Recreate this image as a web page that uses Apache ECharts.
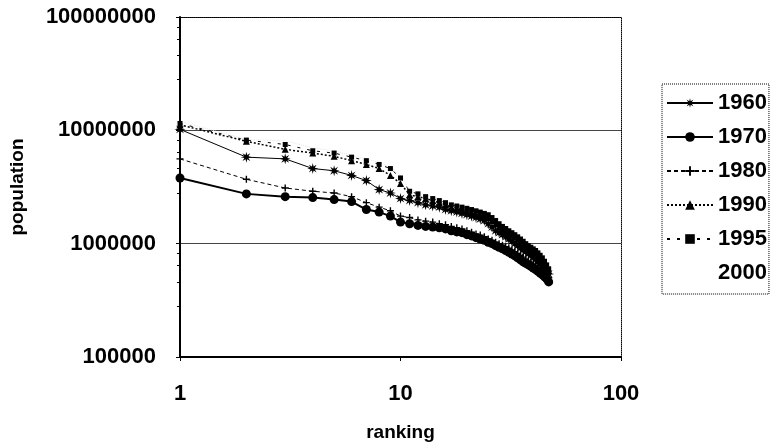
<!DOCTYPE html>
<html>
<head>
<meta charset="utf-8">
<script src="https://cdn.jsdelivr.net/npm/echarts@6/dist/echarts.min.js"></script>
<style>
  html, body { margin: 0; padding: 0; background: #fff; }
  #chart { width: 778px; height: 444px; }
</style>
</head>
<body>
<div id="chart"></div>
<script>
// ranks 1..47
var ranks = [1,2,3,4,5,6,7,8,9,10,11,12,13,14,15,16,17,18,19,20,21,22,23,24,25,26,27,28,29,30,31,32,33,34,35,36,37,38,39,40,41,42,43,44,45,46,47];
var years = ['1960', '1970', '1980', '1990', '1995', '2000'];

var pop1960 = [10200000,5800000,5600000,4600000,4400000,4000000,3600000,3000000,2800000,2500000,2400000,2300000,2200000,2150000,2100000,2000000,1950000,1900000,1850000,1800000,1750000,1700000,1650000,1600000,1500000,1400000,1300000,1250000,1200000,1150000,1100000,1050000,1000000,960000,920000,880000,850000,820000,790000,760000,730000,700000,670000,640000,610000,580000,540000];
var pop1970 = [3800000,2750000,2600000,2550000,2450000,2350000,2000000,1900000,1750000,1550000,1500000,1450000,1420000,1400000,1380000,1350000,1300000,1270000,1250000,1200000,1170000,1130000,1100000,1070000,1030000,1000000,960000,930000,900000,870000,840000,810000,780000,750000,720000,690000,670000,650000,630000,610000,590000,570000,550000,530000,510000,490000,460000];
var pop1980 = [5600000,3700000,3100000,2900000,2800000,2600000,2300000,2100000,1950000,1750000,1700000,1620000,1580000,1550000,1500000,1470000,1420000,1380000,1350000,1300000,1260000,1220000,1190000,1150000,1100000,1070000,1030000,1000000,970000,940000,910000,880000,850000,820000,790000,760000,730000,700000,680000,660000,640000,620000,600000,580000,560000,530000,500000];
var pop1990 = [11200000,8000000,6800000,6300000,5900000,5400000,5000000,4600000,4000000,3400000,2700000,2600000,2500000,2400000,2300000,2200000,2100000,2050000,2000000,1950000,1900000,1850000,1800000,1750000,1700000,1600000,1500000,1420000,1350000,1300000,1250000,1200000,1150000,1100000,1050000,1000000,960000,920000,890000,860000,830000,800000,760000,720000,680000,630000,580000];
var pop1995 = [11500000,8200000,7500000,6600000,6300000,5800000,5400000,5000000,4600000,3800000,2900000,2750000,2600000,2500000,2400000,2300000,2200000,2150000,2100000,2050000,2000000,1950000,1900000,1850000,1800000,1700000,1600000,1500000,1420000,1360000,1300000,1250000,1200000,1150000,1100000,1050000,1000000,960000,930000,900000,870000,830000,790000,750000,700000,650000,600000];
var pop2000 = [12000000,8300000,8100000,7000000,6600000,6000000,5600000,5200000,4800000,4000000,3000000,2850000,2700000,2600000,2500000,2400000,2300000,2220000,2160000,2100000,2050000,2000000,1950000,1900000,1850000,1750000,1650000,1550000,1470000,1400000,1340000,1280000,1220000,1170000,1120000,1070000,1020000,980000,950000,920000,890000,850000,810000,770000,720000,670000,620000];

var starPath = 'path://M0,-10 L1.53,-3.7 L7.07,-7.07 L3.7,-1.53 L10,0 L3.7,1.53 L7.07,7.07 L1.53,3.7 L0,10 L-1.53,3.7 L-7.07,7.07 L-3.7,1.53 L-10,0 L-3.7,-1.53 L-7.07,-7.07 L-1.53,-3.7 Z';
var plusPath = 'path://M-1,-5 L1,-5 L1,-1 L5,-1 L5,1 L1,1 L1,5 L-1,5 L-1,1 L-5,1 L-5,-1 L-1,-1 Z';

function pairs(vals){
    return ranks.map(function(r, i){ return [r, vals[i]]; });
}

var chart = echarts.init(document.getElementById('chart'));

var font = '"Liberation Sans", Arial, sans-serif';

function makeSeries(name, vals, lineStyle, symbol, size, color){
    return {
        name: name,
        type: 'line',
        data: pairs(vals),
        symbol: symbol,
        symbolSize: size,
        showSymbol: symbol != 'none',
        lineStyle: lineStyle,
        itemStyle: { color: color || '#000', borderWidth: 0 },
        animation: false
    };
}

var option = {
    backgroundColor: '#fff',
    textStyle: { fontFamily: font },
    grid: { left: 180, right: 157, top: 17, bottom: 87, outerBoundsMode: 'none', containLabel: false },
    legend: {
        orient: 'vertical',
        left: 662,
        top: 84,
        padding: [8, 2, 10, 4],
        itemWidth: 46,
        itemHeight: 12,
        itemGap: 12,
        borderColor: '#000',
        borderWidth: 1,
        borderType: 'dotted',
        textStyle: { fontFamily: font, fontWeight: 'bold', fontSize: 22, color: '#000' },
        data: ['1960', '1970', '1980', '1990', '1995',
               { name: '2000', itemStyle: { opacity: 0 }, lineStyle: { opacity: 0 } }]
    },
    xAxis: [{
        type: 'log',
        logBase: 10,
        min: 1,
        max: 100,
        name: 'ranking',
        nameLocation: 'middle',
        nameGap: 66,
        nameTextStyle: { fontFamily: font, fontWeight: 'bold', fontSize: 19, color: '#000' },
        axisLine: { lineStyle: { color: '#000', width: 2 } },
        axisTick: { show: true, length: 4, lineStyle: { color: '#000' } },
        axisLabel: {
            margin: 26,
            fontFamily: font, fontWeight: 'bold', fontSize: 22, color: '#000',
            formatter: function(v){ return String(Math.round(v)); }
        },
        splitLine: { show: false }
    }, {
        type: 'log',
        logBase: 10,
        min: 1,
        max: 100,
        position: 'top',
        axisLine: { show: true, lineStyle: { color: '#000', width: 1, type: 'dotted' } },
        axisTick: { show: false },
        axisLabel: { show: false },
        splitLine: { show: false }
    }],
    yAxis: [{
        type: 'log',
        logBase: 10,
        min: 100000,
        max: 100000000,
        name: 'population',
        nameLocation: 'middle',
        nameRotate: 90,
        nameGap: 153,
        nameTextStyle: { fontFamily: font, fontWeight: 'bold', fontSize: 19, color: '#000' },
        axisLine: { show: true, lineStyle: { color: '#000', width: 2 } },
        axisTick: { show: true, length: 4, lineStyle: { color: '#000' } },
        minorTick: { show: true, splitNumber: 5, length: 3, lineStyle: { color: '#000' } },
        axisLabel: {
            margin: 24,
            fontFamily: font, fontWeight: 'bold', fontSize: 22, color: '#000',
            formatter: function(v){ return String(Math.round(v)); }
        },
        splitLine: { show: true, lineStyle: { color: '#444', width: 1 } }
    }, {
        type: 'log',
        logBase: 10,
        min: 100000,
        max: 100000000,
        position: 'right',
        axisLine: { show: true, lineStyle: { color: '#000', width: 1, type: 'dotted' } },
        axisTick: { show: false },
        axisLabel: { show: false },
        splitLine: { show: false }
    }],
    series: [
        makeSeries('1960', pop1960, { color: '#000', width: 1 }, starPath, 11),
        makeSeries('1970', pop1970, { color: '#000', width: 2 }, 'circle', 9),
        makeSeries('1980', pop1980, { color: '#000', width: 1, type: [4, 3] }, plusPath, 7),
        makeSeries('1990', pop1990, { color: '#000', width: 1.5, type: [2, 2] }, 'triangle', 7),
        makeSeries('1995', pop1995, { color: '#000', width: 1, type: [3, 7] }, 'rect', 5),
        makeSeries('2000', pop2000, { color: '#e6e6e6', width: 1, type: 'dotted' }, 'none', 0, '#e6e6e6')
    ]
};

chart.setOption(option);
</script>
</body>
</html>
